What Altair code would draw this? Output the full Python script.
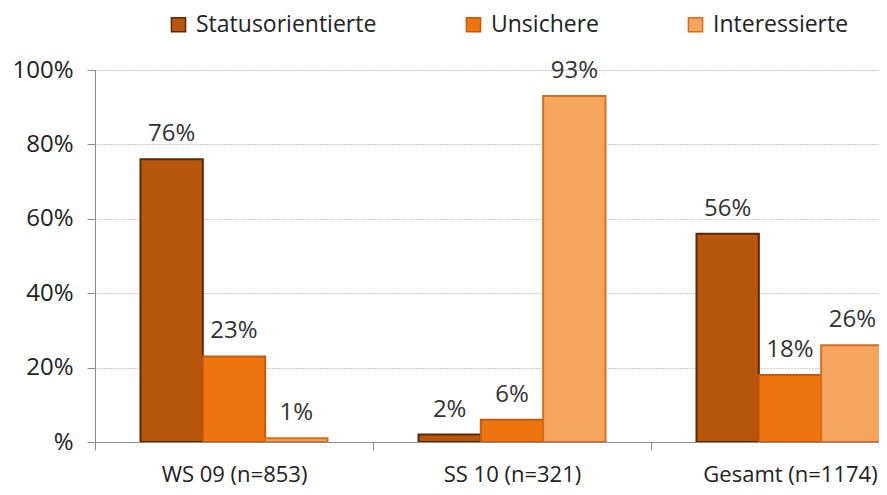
import altair as alt
import pandas as pd

groups = ["WS 09 (n=853)", "SS 10 (n=321)", "Gesamt (n=1174)"]
series = ["Statusorientierte", "Unsichere", "Interessierte"]
statusorientierte = [76, 2, 56]
unsichere = [23, 6, 18]
interessierte = [1, 93, 26]
y_ticks = [0, 20, 40, 60, 80, 100]

fills = ["#B8560B", "#EE7410", "#F6A55F"]
strokes = ["#5C2A05", "#C65A0A", "#D66E1E"]
FONT = "Open Sans"

rows = []
for s, vals in zip(series, [statusorientierte, unsichere, interessierte]):
    for g, v in zip(groups, vals):
        rows.append({"group": g, "series": s, "value": v, "label": f"{v}%"})
df = pd.DataFrame(rows)

x = alt.X(
    "group:N",
    sort=groups,
    scale=alt.Scale(domain=groups, range=[0, 834], paddingInner=0, paddingOuter=0),
    axis=alt.Axis(
        title=None, labelAngle=0, tickBand="extent", tickSize=8, labelPadding=14,
        domainColor="#8c8c8c", tickColor="#8c8c8c", labelFontSize=22,
        labelColor="#222222", labelFont=FONT, grid=False, labelLimit=400,
    ),
)
xo = alt.XOffset(
    "series:N", sort=series,
    scale=alt.Scale(domain=series, paddingInner=0, paddingOuter=0.73),
)
y = alt.Y(
    "value:Q",
    scale=alt.Scale(domain=[0, 100], nice=False),
    axis=alt.Axis(
        title=None, values=y_ticks,
        labelExpr="datum.value == 0 ? '%' : datum.value + '%'",
        tickSize=8, labelPadding=14, gridDash=[1, 2], gridColor="#9a9a9a",
        domainColor="#8c8c8c", tickColor="#8c8c8c", labelFontSize=24,
        labelColor="#222222", labelFont=FONT,
    ),
)

legend = alt.Legend(
    title=None, orient="none", legendX=72, legendY=-57, direction="horizontal",
    symbolType="square", symbolSize=200, symbolStrokeWidth=1.5,
    labelFontSize=23, labelFont=FONT, labelColor="#222222", labelLimit=400,
    columnPadding=85, labelOffset=6,
)

bars = alt.Chart(df).mark_bar(clip=True, strokeWidth=2).encode(
    x=x, xOffset=xo, y=y,
    color=alt.Color("series:N", sort=series, scale=alt.Scale(domain=series, range=fills), legend=legend),
    stroke=alt.Stroke("series:N", sort=series, scale=alt.Scale(domain=series, range=strokes), legend=legend),
)

labels = alt.Chart(df).mark_text(
    dy=-18, baseline="alphabetic", fontSize=24, font=FONT, color="#333333"
).encode(x=x, xOffset=xo, y=y, text="label:N")

chart = alt.layer(bars, labels).properties(
    width=784, height=372,
    autosize=alt.AutoSizeParams(type="none"),
    padding={"left": 87, "top": 62, "right": 0, "bottom": 45},
    background="white",
).configure_view(stroke=None)

chart.save("out.html", embed_options={"renderer": "svg", "actions": False})
